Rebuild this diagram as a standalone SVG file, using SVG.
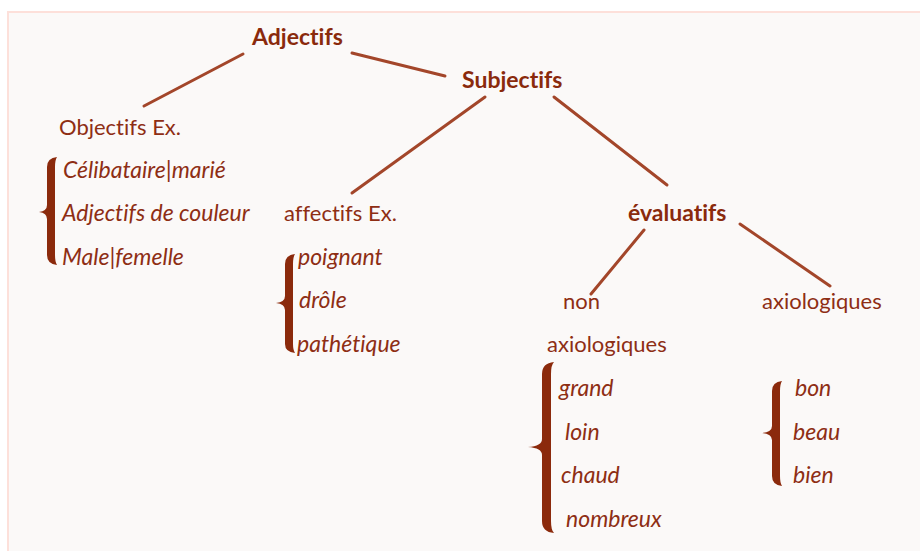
<svg xmlns="http://www.w3.org/2000/svg" width="920" height="551" viewBox="0 0 920 551">
<defs>
<style>
.t{font-family:Lato,"Open Sans","Liberation Sans",sans-serif;font-size:22px;fill:#8e2e14;font-variant-ligatures:none}
.b{font-weight:bold;font-size:23px;fill:#8a2a0c}
.i{font-style:italic;font-size:23px}
.c line{stroke:#a3462a;stroke-width:3;stroke-linecap:round}
.br{fill:#8b2a0c}
</style>
</defs>
<rect x="0" y="0" width="920" height="551" fill="#ffffff"/>
<rect x="8" y="12" width="930" height="560" fill="#fbf9f8" stroke="#fde0da" stroke-width="2"/>
<g class="c" id="connectors">
<line x1="243" y1="54" x2="144" y2="106"/>
<line x1="352" y1="53" x2="445" y2="76"/>
<line x1="485" y1="97" x2="352" y2="193"/>
<line x1="554" y1="97" x2="667" y2="185"/>
<line x1="644" y1="230" x2="591" y2="294"/>
<line x1="740" y1="224" x2="830" y2="286"/>
</g>
<g id="adjectifs"><text class="t b" x="252" y="45">Adjectifs</text></g>
<g id="subjectifs"><text class="t b" x="462" y="88">Subjectifs</text></g>
<g id="objectifs">
<text class="t" x="59" y="135">Objectifs Ex.</text>
<path class="br" d="M57,157 Q47,158 47,167 L47,205 Q47,211 39,212 Q47,213 47,219 L47,255 Q47,264 57,265 Q55,262 55,255 L55,167 Q55,160 57,157 Z"/>
<text class="t i" x="63" y="178">Célibataire|marié</text>
<text class="t i" x="62" y="221">Adjectifs de couleur</text>
<text class="t i" x="62" y="265">Male|femelle</text>
</g>
<g id="affectifs">
<text class="t" x="284" y="221">affectifs Ex.</text>
<path class="br" d="M295,254 Q285,255 285,264 L285,296 Q285,302 276,303 Q285,304 285,310 L285,344 Q285,352 295,353 Q293,350 293,344 L293,264 Q293,257 295,254 Z"/>
<text class="t i" x="298" y="265">poignant</text>
<text class="t i" x="299" y="308">drôle</text>
<text class="t i" x="297" y="352">pathétique</text>
</g>
<g id="evaluatifs"><text class="t b" x="628" y="221">évaluatifs</text></g>
<g id="non-axiologiques">
<text class="t" x="563" y="309">non</text>
<text class="t" x="547" y="352">axiologiques</text>
<path class="br" d="M554,362 Q542,363 542,374 L542,439 Q542,446 528,447 Q542,448 542,455 L542,521 Q542,532 554,533 Q551,530 551,521 L551,374 Q551,365 554,362 Z"/>
<text class="t i" x="559" y="396">grand</text>
<text class="t i" x="565" y="440">loin</text>
<text class="t i" x="561" y="483">chaud</text>
<text class="t i" x="566" y="527">nombreux</text>
</g>
<g id="axiologiques">
<text class="t" x="762" y="309">axiologiques</text>
<path class="br" d="M782,381 Q772,382 772,391 L772,426 Q772,432 762,433 Q772,434 772,440 L772,476 Q772,485 782,486 Q780,483 780,476 L780,391 Q780,384 782,381 Z"/>
<text class="t i" x="795" y="396">bon</text>
<text class="t i" x="793" y="440">beau</text>
<text class="t i" x="793" y="483">bien</text>
</g>
</svg>
